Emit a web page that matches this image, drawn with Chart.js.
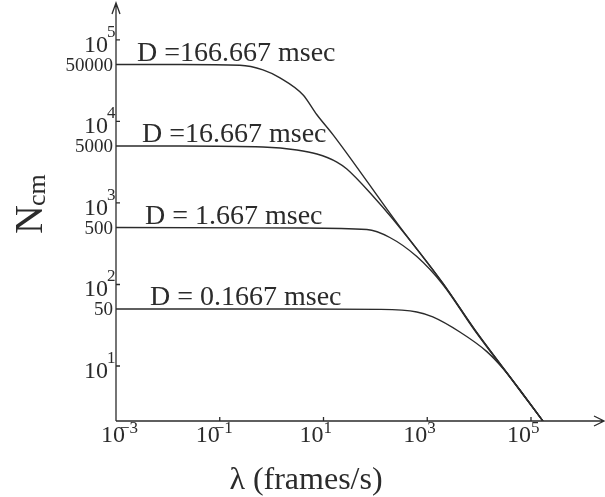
<!DOCTYPE html>
<html>
<head>
<meta charset="utf-8">
<script src="https://cdn.jsdelivr.net/npm/chart.js@4.4.1/dist/chart.umd.min.js"></script>
<style>
  html, body { margin: 0; padding: 0; background: #fff; }
  #wrap { width: 605px; height: 497px; }
</style>
</head>
<body>
<div id="wrap"><canvas id="ncmChart"></canvas></div>
<script>
// frame rate lambda (frames/s) and N_cm for each frame duration D
const lambdaA = [0.001, 0.0171, 0.245, 0.68, 1.45, 4.01, 7.46, 15.2, 297, 2000, 8320, 61400, 170000];
const ncmA    = [50000, 50000, 49000, 43000, 34300, 21300, 12100, 6900, 508, 104, 27.7, 5.08, 2.11];

const lambdaB = [0.001, 0.0171, 0.68, 3.07, 7.46, 18.1, 28.2, 89.5, 217, 2000, 8320, 61400, 170000];
const ncmB    = [5000, 5000, 4860, 4470, 3990, 3180, 2610, 1220, 635, 103, 27.5, 5.05, 2.11];

const lambdaC = [0.001, 3.51, 68.6, 190, 630, 2000, 8320, 61400, 170000];
const ncmC    = [500, 493, 472, 377, 220, 100, 27, 5.0, 2.11];

const lambdaD = [0.001, 3.51, 122, 630, 1280, 4250, 14100, 31200, 61400, 170000];
const ncmD    = [50, 50, 49.5, 46, 40, 26.1, 15.0, 8.8, 5.0, 2.11];

const curveLabels = ['D =166.667 msec', 'D =16.667 msec', 'D = 1.667 msec', 'D = 0.1667 msec'];
const plateauValues = [50000, 5000, 500, 50];
const yTickPowers = [1, 2, 3, 4, 5];
const xTickPowers = [-3, -1, 1, 3, 5];

const ink = '#2b2b2b';
const serif = '"Liberation Serif", "Times New Roman", serif';

function curve(xs, ys) {
  return {
    data: xs.map((x, i) => ({ x, y: ys[i] })),
    borderColor: ink,
    borderWidth: 1.4,
    pointRadius: 0,
    cubicInterpolationMode: 'monotone',
    fill: false
  };
}

// "10" right-aligned at x, exponent raised after it
function drawPower(ctx, x, base, exp, expLeft, expBase) {
  ctx.font = '24px ' + serif;
  ctx.textAlign = 'right';
  ctx.textBaseline = 'alphabetic';
  ctx.fillText('10', x, base);
  ctx.font = '17px ' + serif;
  ctx.textAlign = 'left';
  ctx.fillText(exp < 0 ? '\u2212' + (-exp) : String(exp), expLeft, expBase);
}

const sketchAxes = {
  id: 'sketchAxes',
  afterDraw(chart) {
    const { ctx, chartArea: area, scales: { x, y } } = chart;
    const x0 = area.left, y0 = area.bottom;
    ctx.save();
    ctx.strokeStyle = ink;
    ctx.fillStyle = ink;
    ctx.lineWidth = 1.3;

    // axes with open arrowheads
    ctx.beginPath();
    ctx.moveTo(x0, y0); ctx.lineTo(x0, area.top - 2);
    ctx.moveTo(x0 - 4, area.top + 9); ctx.lineTo(x0, area.top - 2); ctx.lineTo(x0 + 4, area.top + 9);
    ctx.moveTo(x0, y0); ctx.lineTo(area.right + 1, y0);
    ctx.moveTo(area.right - 9, y0 - 5); ctx.lineTo(area.right + 1, y0); ctx.lineTo(area.right - 9, y0 + 5);

    // inward tick marks
    yTickPowers.forEach(p => {
      const py = y.getPixelForValue(10 ** p);
      ctx.moveTo(x0, py); ctx.lineTo(x0 + 4, py);
    });
    xTickPowers.forEach(p => {
      const px = x.getPixelForValue(10 ** p);
      ctx.moveTo(px, y0); ctx.lineTo(px, y0 - 4);
    });
    ctx.stroke();

    // y tick labels
    yTickPowers.forEach(p => {
      const py = y.getPixelForValue(10 ** p);
      drawPower(ctx, x0 - 8, py + 12, p, x0 - 9, py - 3);
    });
    ctx.font = '19px ' + serif;
    ctx.textAlign = 'right';
    ctx.textBaseline = 'alphabetic';
    plateauValues.forEach(v => {
      ctx.fillText(String(v), x0 - 3, y.getPixelForValue(v) + 6);
    });

    // x tick labels
    xTickPowers.forEach((p, i) => {
      const px = x.getPixelForValue(10 ** p) + (i === 0 ? 9 : 0);
      drawPower(ctx, px, y0 + 21, p, p < 0 ? px - 5 : px, y0 + 12);
    });

    // curve annotations
    ctx.font = '28px ' + serif;
    ctx.textAlign = 'left';
    const shifts = [21, 26, 29, 34];
    curveLabels.forEach((t, i) => {
      ctx.fillText(t, x0 + shifts[i], y.getPixelForValue(plateauValues[i]) - 4);
    });

    // axis titles
    ctx.font = '32px ' + serif;
    ctx.textAlign = 'center';
    ctx.fillText('\u03bb (frames/s)', x0 + 190, 489);

    ctx.translate(42, 234);
    ctx.rotate(-Math.PI / 2);
    ctx.textAlign = 'left';
    ctx.font = '40px ' + serif;
    ctx.fillText('N', 0, 0);
    const nw = ctx.measureText('N').width;
    ctx.font = '26px ' + serif;
    ctx.fillText('cm', nw - 1, 3);
    ctx.restore();
  }
};

new Chart(document.getElementById('ncmChart'), {
  type: 'line',
  data: {
    datasets: [
      curve(lambdaA, ncmA),
      curve(lambdaB, ncmB),
      curve(lambdaC, ncmC),
      curve(lambdaD, ncmD)
    ]
  },
  options: {
    responsive: true,
    maintainAspectRatio: false,
    animation: false,
    layout: { padding: { left: 116, top: 5, right: 2, bottom: 76 } },
    plugins: { legend: { display: false }, tooltip: { enabled: false } },
    scales: {
      x: { type: 'logarithmic', min: 0.001, max: 10 ** 6.388, display: false },
      y: { type: 'logarithmic', min: 10 ** 0.325, max: 10 ** 5.429, display: false }
    }
  },
  plugins: [sketchAxes]
});
</script>
</body>
</html>
